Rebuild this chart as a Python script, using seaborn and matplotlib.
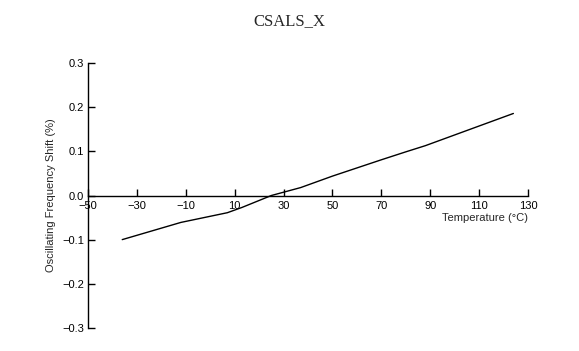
import pandas as pd
import matplotlib.pyplot as plt
import seaborn as sns

# temperature (°C) vs oscillating frequency shift (%)
temperature = [-36, -12, 7, 13, 25, 37, 50, 70, 80, 88, 124]
freq_shift = [-0.100, -0.061, -0.039, -0.027, 0.000, 0.018, 0.044, 0.081, 0.099, 0.113, 0.186]
x_ticks = [-50, -30, -10, 10, 30, 50, 70, 90, 110, 130]
y_ticks = [-0.3, -0.2, -0.1, 0.0, 0.1, 0.2, 0.3]

sns.set_style("ticks")
plt.rcParams['font.family'] = ['Liberation Sans', 'DejaVu Sans']

df = pd.DataFrame({'Temperature': temperature, 'Shift': freq_shift})

fig = plt.figure(figsize=(5.79, 3.51), dpi=100)
ax = fig.add_axes([0.152, 0.066, 0.760, 0.754])
sns.lineplot(data=df, x='Temperature', y='Shift', color='black', linewidth=1.0, ax=ax)

ax.set_xlim(-50, 130)
ax.set_ylim(-0.3, 0.3)
ax.set_xticks(x_ticks)
ax.set_yticks(y_ticks)
ax.set_xticklabels([f"{t}".replace('-', '\u2212') for t in x_ticks])
ax.set_yticklabels([f"{t:.1f}".replace('-', '\u2212') for t in y_ticks])

# x axis through zero, ticks pointing inward
ax.spines['bottom'].set_position(('data', 0))
ax.spines['top'].set_visible(False)
ax.spines['right'].set_visible(False)
for s in ['left', 'bottom']:
    ax.spines[s].set_linewidth(1.0)
    ax.spines[s].set_color('black')
ax.tick_params(axis='both', direction='in', length=5, width=1.0, labelsize=8, colors='black', pad=3)
ax.tick_params(axis='x', pad=4)

ax.set_xlabel('')
ax.set_ylabel('Oscillating Frequency Shift (%)', fontsize=8, labelpad=4)
ax.text(130, -0.05, 'Temperature (°C)', ha='right', va='center', fontsize=8)

fig.text(0.5, 0.94, 'CSALS_X', ha='center', va='center', fontsize=12,
         family=['Liberation Serif', 'DejaVu Serif'])

fig.savefig('out.png', dpi=100)
